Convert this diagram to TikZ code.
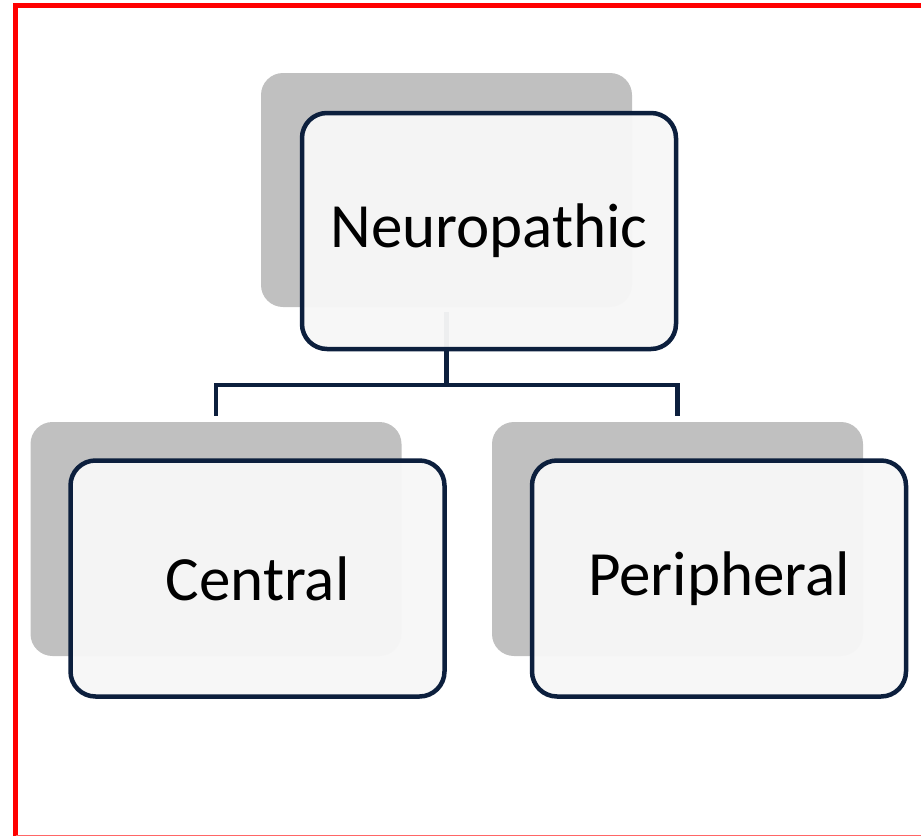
\documentclass[tikz,border=0pt]{standalone}
\usepackage{fontspec}
\setmainfont{Carlito}
\definecolor{navy}{HTML}{0C1F3D}
\definecolor{shade}{HTML}{C0C0C0}
\definecolor{paper}{HTML}{F7F7F7}

\begin{document}
\begin{tikzpicture}[x=1pt,y=-1pt,
	back/.style={fill=shade, rounded corners=22pt, minimum width=371pt, minimum height=234pt, inner sep=0pt},
	front/.style={draw=navy, line width=4.5pt, fill=paper, fill opacity=0.96, text opacity=1, rounded corners=25pt,
		minimum width=374pt, minimum height=236pt, inner sep=0pt, font=\fontsize{63}{75}\selectfont},
	link/.style={draw=navy, line width=4.5pt}]
	\useasboundingbox (0,0) rectangle (921,836);

	% Marco
	\draw [red, line width=5.5pt] (15.5,836) -- (15.5,5.5) -- (921,5.5);
	\draw [red!60, line width=1.5pt] (15.5,835.5) -- (921,835.5);

	% Sombras
	\node [back] (nb) at (446.5,190) {};
	\node [back] (cb) at (216,539) {};
	\node [back] (pb) at (677.5,539) {};

	% Conectores
	\coordinate (hub) at (446.5,385);
	\draw [link, shorten <=5pt] (nb.south) -- (hub);
	\draw [link, shorten <=6pt, shorten >=6pt] (cb.north) |- (hub) -| (pb.north);

	% Cajas
	\node [front] (neuro) at (489,231) {Neuropathic};
	\node [front] (central) at (257.5,578.5) {Central};
	\node [front] (periph) at (719,578.5) {Peripheral};
\end{tikzpicture}
\end{document}
